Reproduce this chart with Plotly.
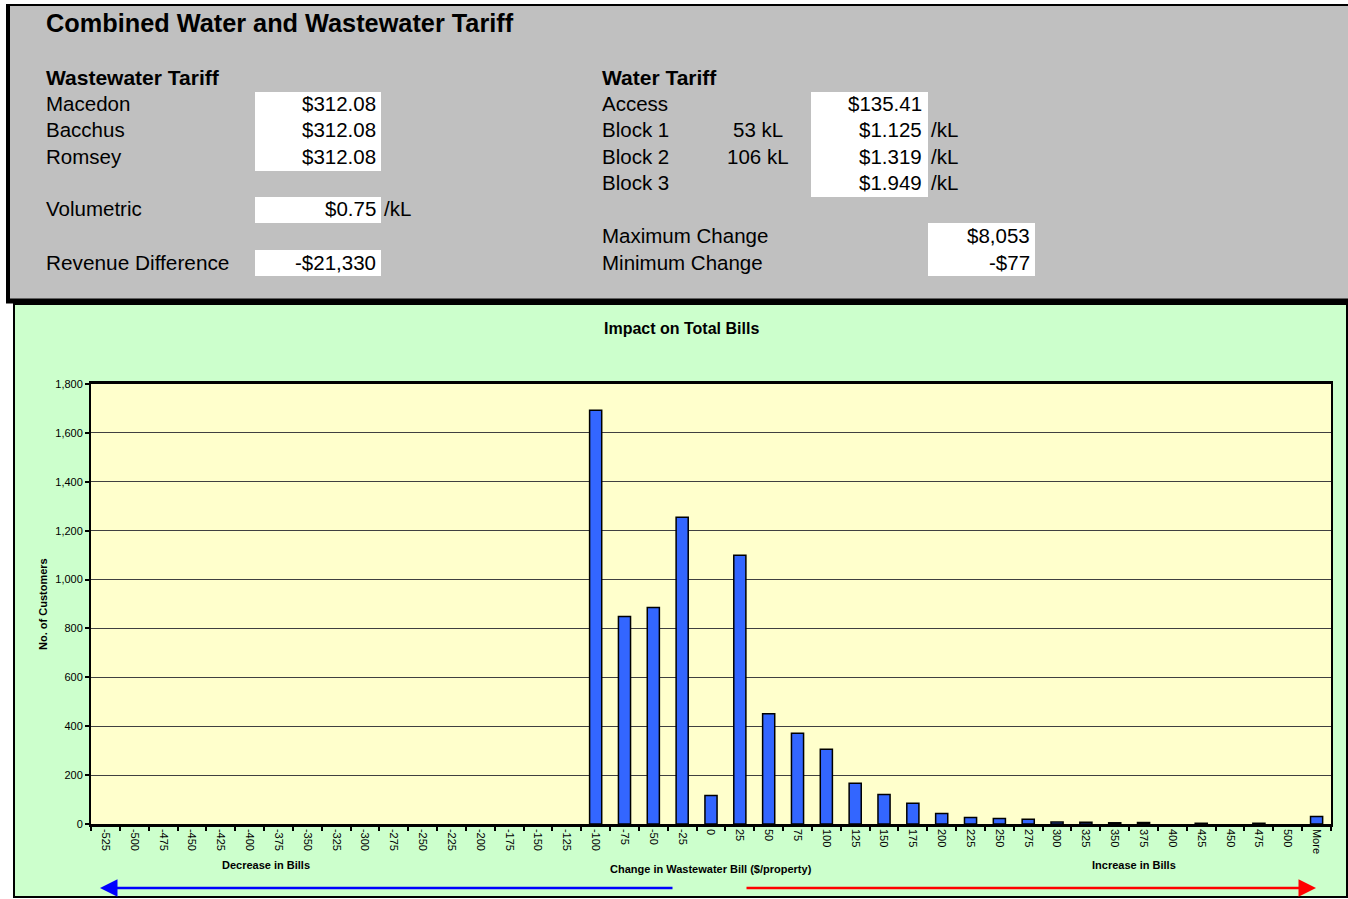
import plotly.graph_objects as go

# ---------------- data ----------------
categories = ["-525", "-500", "-475", "-450", "-425", "-400", "-375", "-350", "-325",
              "-300", "-275", "-250", "-225", "-200", "-175", "-150", "-125", "-100",
              "-75", "-50", "-25", "0", "25", "50", "75", "100", "125", "150", "175",
              "200", "225", "250", "275", "300", "325", "350", "375", "400", "425",
              "450", "475", "500", "More"]
customers = [0, 0, 0, 0, 0, 0, 0, 0, 0,
             0, 0, 0, 0, 0, 0, 0, 0, 1693,
             849, 886, 1255, 117, 1099, 451, 371, 306, 167, 121, 85,
             43, 27, 22, 19, 8, 7, 5, 6, 0, 3,
             0, 3, 0, 31]
y_ticks = [0, 200, 400, 600, 800, 1000, 1200, 1400, 1600, 1800]

wastewater_labels = ["Macedon", "Bacchus", "Romsey"]
wastewater_values = ["$312.08", "$312.08", "$312.08"]
volumetric_value = "$0.75"
revenue_difference = "-$21,330"
water_labels = ["Access", "Block 1", "Block 2", "Block 3"]
water_blocks = ["", "53 kL", "106 kL", ""]
water_values = ["$135.41", "$1.125", "$1.319", "$1.949"]
water_units = ["", "/kL", "/kL", "/kL"]
change_labels = ["Maximum Change", "Minimum Change"]
change_values = ["$8,053", "-$77"]

# ---------------- layout geometry ----------------
W, H = 1348, 899
L, R, T, B = 91, 17, 384, 75
PW = W - L - R
PH = H - T - B
FONT = "Liberation Sans, Arial, sans-serif"


def fx(x):
    return (x - L) / PW


def fy(y):
    return (H - B - y) / PH


shapes = []
annotations = []


def rect(x0, y0, x1, y1, fill, line_color=None, line_width=0):
    shapes.append(dict(type="rect", xref="paper", yref="paper",
                       x0=fx(x0), x1=fx(x1), y0=fy(y1), y1=fy(y0),
                       fillcolor=fill, layer="below",
                       line=dict(color=line_color or fill, width=line_width)))


def line(x0, y0, x1, y1, color="black", width=1):
    shapes.append(dict(type="line", xref="paper", yref="paper",
                       x0=fx(x0), x1=fx(x1), y0=fy(y0), y1=fy(y1),
                       layer="below", line=dict(color=color, width=width)))


def text(s, x, y, size=20.5, bold=False, anchor="left", angle=0):
    annotations.append(dict(text=f"<b>{s}</b>" if bold else s,
                            xref="paper", yref="paper", x=fx(x), y=fy(y),
                            xanchor=anchor, yanchor="middle", showarrow=False,
                            textangle=angle,
                            font=dict(family=FONT, size=size, color="black")))


# gray tariff panel
rect(8, 5, 1360, 301, "#C0C0C0")
line(7, 5, 1360, 5, width=2)
line(8, 4, 8, 303, width=4)
line(6, 301, 1360, 301, width=5)

# green chart panel
rect(14, 304, 1347, 897, "#CCFFCC", "black", 2)
# yellow plot area
shapes.append(dict(type="rect", xref="paper", yref="paper", x0=0, x1=1, y0=0, y1=1,
                   fillcolor="#FFFFCC", layer="below", line=dict(width=0)))

# white value boxes
rect(255, 92, 381, 171, "white")
rect(255, 197, 381, 223, "white")
rect(255, 250, 381, 276, "white")
rect(811, 92, 928, 197, "white")
rect(928, 223, 1035, 276, "white")

# panel texts
text("Combined Water and Wastewater Tariff", 44, 23, size=25.3, bold=True)
text("Wastewater Tariff", 44, 78, size=21, bold=True)
rows_y = [104, 130, 156]
for lab, val, yy in zip(wastewater_labels, wastewater_values, rows_y):
    text(lab, 44, yy)
    text(val, 378, yy, anchor="right")
text("Volumetric", 44, 208)
text(volumetric_value, 378, 208, anchor="right")
text("/kL", 382, 208)
text("Revenue Difference", 44, 262, size=20.8)
text(revenue_difference, 378, 262, anchor="right")

text("Water Tariff", 600, 78, size=21, bold=True)
w_rows = [104, 130, 156, 182]
for lab, blk, val, unit, yy in zip(water_labels, water_blocks, water_values, water_units, w_rows):
    text(lab, 600, yy)
    if blk:
        text(blk, 758, yy, anchor="center")
    text(val, 924, yy, anchor="right")
    if unit:
        text(unit, 929, yy)
for lab, val, yy in zip(change_labels, change_values, [235, 262]):
    text(lab, 600, yy)
    text(val, 1032, yy, anchor="right")

# chart texts
text("Impact on Total Bills", 681, 328, size=16, bold=True, anchor="center")
text("No. of Customers", 43, 604, size=11, bold=True, anchor="center", angle=-90)
text("Change in Wastewater Bill ($/property)", 711, 869, size=11, bold=True, anchor="center")
text("Decrease in Bills", 266, 865, size=11, bold=True, anchor="center")
text("Increase in Bills", 1134, 865, size=11, bold=True, anchor="center")

# arrows
annotations.append(dict(xref="paper", yref="paper", x=fx(100), y=fy(888), ax=574, ay=0,
                        text="", showarrow=True, arrowhead=2, arrowsize=1.4,
                        arrowwidth=2.5, arrowcolor="#0000FF"))
annotations.append(dict(xref="paper", yref="paper", x=fx(1316), y=fy(888), ax=-571, ay=0,
                        text="", showarrow=True, arrowhead=2, arrowsize=1.4,
                        arrowwidth=2.5, arrowcolor="#FF0000"))

outline_widths = [1.5 if v > 0 else 0 for v in customers]

fig = go.Figure(go.Bar(x=categories, y=customers,
                       marker=dict(color="#3366FF",
                                   line=dict(color="black", width=outline_widths)),
                       hoverinfo="skip"))

fig.update_layout(
    width=W, height=H, autosize=False,
    margin=dict(l=L, r=R, t=T, b=B, pad=0, autoexpand=False),
    paper_bgcolor="white", plot_bgcolor="rgba(0,0,0,0)",
    template="none", showlegend=False, bargap=0.58,
    font=dict(family=FONT, size=11, color="black"),
    shapes=shapes, annotations=annotations,
    xaxis=dict(type="category", categoryorder="array", categoryarray=categories,
               tickson="boundaries", ticks="outside", ticklen=4, tickwidth=2,
               tickcolor="black", tickangle=90, showgrid=False, showline=True,
               linecolor="black", linewidth=2.5, mirror=True, automargin=False,
               tickfont=dict(family=FONT, size=11, color="black"), zeroline=False),
    yaxis=dict(range=[0, 1800], tickvals=y_ticks, tickformat=",", ticks="outside",
               ticklen=4, tickwidth=2, tickcolor="black", showgrid=True,
               gridcolor="#404040", gridwidth=1, showline=True, linecolor="black",
               linewidth=2, mirror=True, zeroline=False, automargin=False,
               tickfont=dict(family=FONT, size=11, color="black")),
)

fig.write_html("out.html", config={"displayModeBar": False},
               post_script="document.body.style.margin='0';document.body.style.overflow='hidden';")
